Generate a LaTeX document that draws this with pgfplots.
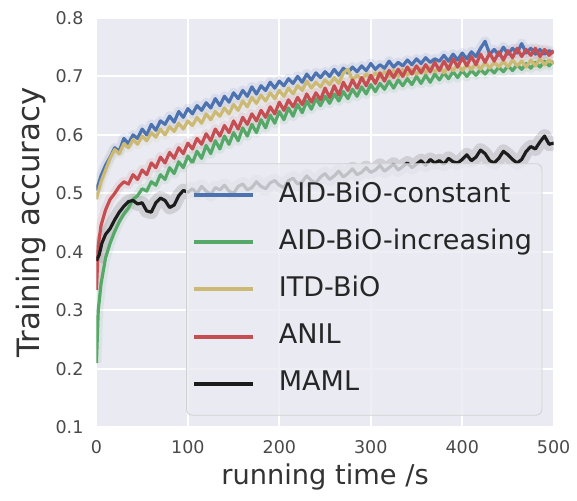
\documentclass[border=0pt]{standalone}
\usepackage{fontspec}
\setmainfont{DejaVu Sans}
\usepackage{pgfplots}
\usepackage{pgfplotstable}
\pgfplotsset{compat=1.18}

\definecolor{sbbg}{HTML}{EAEAF2}
\definecolor{sbblue}{HTML}{4C72B0}
\definecolor{sbgreen}{HTML}{55A868}
\definecolor{sbyellow}{HTML}{CCB974}
\definecolor{sbred}{HTML}{C44E52}
\definecolor{sbblack}{HTML}{1C1C1C}
\definecolor{ticktext}{HTML}{4A4A4A}
\definecolor{labeltext}{HTML}{333333}

% AID-BiO-constant
\pgfplotstableread{
t v
0 0.505
5 0.530
10 0.548
15 0.562
20 0.578
25 0.572
30 0.594
35 0.585
40 0.600
45 0.594
50 0.610
55 0.600
60 0.618
65 0.608
70 0.624
75 0.618
80 0.632
85 0.622
90 0.640
95 0.630
100 0.645
105 0.636
110 0.650
115 0.642
120 0.655
125 0.646
130 0.662
135 0.650
140 0.666
145 0.656
150 0.672
155 0.662
160 0.676
165 0.666
170 0.682
175 0.670
180 0.684
185 0.676
190 0.690
195 0.680
200 0.692
205 0.684
210 0.696
215 0.688
220 0.700
225 0.690
230 0.704
235 0.694
240 0.706
245 0.698
250 0.708
255 0.700
260 0.712
265 0.702
270 0.714
275 0.706
280 0.716
285 0.708
290 0.718
295 0.710
300 0.722
305 0.712
310 0.720
315 0.714
320 0.726
325 0.716
330 0.724
335 0.718
340 0.728
345 0.720
350 0.730
355 0.722
360 0.732
365 0.724
370 0.730
375 0.726
380 0.736
385 0.726
390 0.738
395 0.728
400 0.740
405 0.730
410 0.742
415 0.734
420 0.748
425 0.760
430 0.738
435 0.746
440 0.736
445 0.750
450 0.738
455 0.748
460 0.740
465 0.756
470 0.740
475 0.748
480 0.738
485 0.746
490 0.738
495 0.744
500 0.740
}\aidconst

% AID-BiO-increasing
\pgfplotstableread{
t v
0 0.210
2 0.300
5 0.345
10 0.390
15 0.415
20 0.435
25 0.452
30 0.465
35 0.475
40 0.490
45 0.496
50 0.508
55 0.504
60 0.520
65 0.514
70 0.532
75 0.524
80 0.544
85 0.534
90 0.554
95 0.544
100 0.564
105 0.552
110 0.572
115 0.560
120 0.582
125 0.568
130 0.590
135 0.576
140 0.598
145 0.584
150 0.604
155 0.590
160 0.612
165 0.598
170 0.618
175 0.604
180 0.626
185 0.612
190 0.634
195 0.620
200 0.640
205 0.626
210 0.646
215 0.632
220 0.652
225 0.638
230 0.658
235 0.644
240 0.662
245 0.650
250 0.666
255 0.654
260 0.670
265 0.658
270 0.674
275 0.662
280 0.678
285 0.666
290 0.682
295 0.670
300 0.686
305 0.674
310 0.688
315 0.678
320 0.692
325 0.680
330 0.694
335 0.684
340 0.696
345 0.686
350 0.700
355 0.688
360 0.702
365 0.690
370 0.704
375 0.694
380 0.706
385 0.696
390 0.708
395 0.698
400 0.710
405 0.700
410 0.710
415 0.702
420 0.712
425 0.704
430 0.714
435 0.706
440 0.716
445 0.708
450 0.718
455 0.710
460 0.720
465 0.712
470 0.722
475 0.714
480 0.724
485 0.716
490 0.726
495 0.718
500 0.726
}\aidinc

% ITD-BiO
\pgfplotstableread{
t v
0 0.490
5 0.520
10 0.540
15 0.560
20 0.575
25 0.568
30 0.585
35 0.578
40 0.592
45 0.584
50 0.598
55 0.590
60 0.604
65 0.596
70 0.610
75 0.600
80 0.614
85 0.606
90 0.620
95 0.610
100 0.624
105 0.616
110 0.630
115 0.620
120 0.636
125 0.626
130 0.640
135 0.632
140 0.646
145 0.636
150 0.652
155 0.642
160 0.658
165 0.648
170 0.664
175 0.654
180 0.668
185 0.658
190 0.672
195 0.662
200 0.676
205 0.666
210 0.680
215 0.670
220 0.684
225 0.676
230 0.692
235 0.680
240 0.690
245 0.682
250 0.694
255 0.686
260 0.698
265 0.688
270 0.706
275 0.712
280 0.694
285 0.702
290 0.694
295 0.704
300 0.696
305 0.706
310 0.698
315 0.708
320 0.700
325 0.710
330 0.700
335 0.712
340 0.702
345 0.712
350 0.704
355 0.714
360 0.706
365 0.716
370 0.708
375 0.716
380 0.706
385 0.718
390 0.710
395 0.720
400 0.710
405 0.720
410 0.712
415 0.722
420 0.712
425 0.724
430 0.714
435 0.724
440 0.716
445 0.726
450 0.716
455 0.728
460 0.718
465 0.726
470 0.716
475 0.728
480 0.718
485 0.730
490 0.720
495 0.728
500 0.722
}\itd

% ANIL
\pgfplotstableread{
t v
0 0.335
2 0.410
5 0.445
10 0.472
15 0.490
20 0.500
25 0.512
30 0.520
35 0.516
40 0.532
45 0.524
50 0.540
55 0.532
60 0.552
65 0.544
70 0.562
75 0.552
80 0.570
85 0.560
90 0.578
95 0.568
100 0.586
105 0.576
110 0.594
115 0.584
120 0.602
125 0.590
130 0.610
135 0.598
140 0.616
145 0.604
150 0.624
155 0.610
160 0.630
165 0.618
170 0.636
175 0.624
180 0.642
185 0.630
190 0.648
195 0.636
200 0.656
205 0.642
210 0.660
215 0.648
220 0.664
225 0.652
230 0.670
235 0.656
240 0.672
245 0.660
250 0.680
255 0.664
260 0.684
265 0.668
270 0.690
275 0.676
280 0.694
285 0.680
290 0.698
295 0.684
300 0.702
305 0.688
310 0.706
315 0.692
320 0.710
325 0.698
330 0.712
335 0.700
340 0.716
345 0.704
350 0.718
355 0.706
360 0.720
365 0.708
370 0.724
375 0.710
380 0.726
385 0.712
390 0.730
395 0.716
400 0.732
405 0.718
410 0.734
415 0.720
420 0.738
425 0.724
430 0.740
435 0.726
440 0.742
445 0.728
450 0.744
455 0.732
460 0.748
465 0.734
470 0.746
475 0.736
480 0.748
485 0.734
490 0.746
495 0.736
500 0.744
}\anil

% MAML
\pgfplotstableread{
t v
0 0.385
3 0.395
6 0.415
10 0.430
15 0.440
20 0.455
25 0.468
30 0.478
35 0.486
40 0.488
45 0.482
50 0.484
55 0.470
60 0.468
65 0.484
70 0.492
75 0.488
80 0.476
85 0.480
90 0.496
95 0.505
100 0.502
105 0.508
110 0.500
115 0.512
120 0.504
125 0.498
130 0.510
135 0.506
140 0.514
145 0.504
150 0.500
155 0.512
160 0.516
165 0.506
170 0.510
175 0.520
180 0.512
185 0.508
190 0.518
195 0.522
200 0.514
205 0.510
210 0.522
215 0.526
220 0.516
225 0.520
230 0.530
235 0.522
240 0.518
245 0.528
250 0.534
255 0.524
260 0.530
265 0.538
270 0.528
275 0.534
280 0.542
285 0.532
290 0.536
295 0.544
300 0.536
305 0.540
310 0.548
315 0.538
320 0.544
325 0.550
330 0.540
335 0.546
340 0.552
345 0.544
350 0.550
355 0.556
360 0.548
365 0.558
370 0.552
375 0.556
380 0.550
385 0.560
390 0.554
395 0.552
400 0.558
405 0.566
410 0.556
415 0.562
420 0.574
425 0.568
430 0.556
435 0.552
440 0.560
445 0.572
450 0.566
455 0.558
460 0.552
465 0.558
470 0.572
475 0.580
480 0.576
485 0.588
490 0.598
495 0.584
500 0.586
}\maml

\begin{document}
\begin{tikzpicture}
\begin{axis}[
    scale only axis,
    width=230pt, height=206pt,
    xmin=0, xmax=500, ymin=0.1, ymax=0.8,
    xtick={0,100,200,300,400,500},
    ytick={0.1,0.2,0.3,0.4,0.5,0.6,0.7,0.8},
    yticklabels={0.1,0.2,0.3,0.4,0.5,0.6,0.7,0.8},
    axis background/.style={fill=sbbg},
    axis line style={draw=none},
    major tick length=0pt,
    grid=major,
    major grid style={white, line width=1pt},
    tick label style={font=\fontsize{8.8}{10}\selectfont, text=ticktext},
    /pgf/number format/assume math mode=true,
    xticklabel style={yshift=-3pt},
    yticklabel style={xshift=-3pt},
    xlabel={running time /s},
    ylabel={Training accuracy},
    xlabel style={font=\fontsize{13.7}{15}\selectfont, text=labeltext, yshift=2pt},
    ylabel style={font=\fontsize{15.5}{17}\selectfont, text=labeltext, yshift=-2pt},
    every axis plot/.append style={line join=round},
    legend cell align=left,
    legend image code/.code={\draw[#1, line width=2pt] (0pt,0pt) -- (29.5pt,0pt);},
    legend style={
        at={(axis description cs:0.196,0.029)}, anchor=south west,
        fill=sbbg, fill opacity=0.8, draw opacity=1, text opacity=1,
        draw=black!18, rounded corners=3pt,
        font=\fontsize{13.6}{16}\selectfont, text=black!85,
        inner xsep=3pt, inner ysep=7pt,
        row sep=6pt,
        nodes={inner sep=2pt, text height=10.5pt, text depth=3.2pt},
        /tikz/every odd column/.append style={column sep=10pt},
    },
]
% shaded spread
\addplot[sbblue, line width=5pt, opacity=0.1, forget plot] table[x=t,y=v] {\aidconst};
\addplot[sbgreen, line width=5pt, opacity=0.1, forget plot] table[x=t,y=v] {\aidinc};
\addplot[sbyellow, line width=5pt, opacity=0.1, forget plot] table[x=t,y=v] {\itd};
\addplot[sbred, line width=5pt, opacity=0.1, forget plot] table[x=t,y=v] {\anil};
\addplot[gray, line width=7pt, opacity=0.25, forget plot] table[x=t,y=v] {\maml};
% mean curves
\addplot[sbblue, line width=1.6pt] table[x=t,y=v] {\aidconst};
\addplot[sbgreen, line width=1.6pt] table[x=t,y=v] {\aidinc};
\addplot[sbyellow, line width=1.6pt] table[x=t,y=v] {\itd};
\addplot[sbred, line width=1.6pt] table[x=t,y=v] {\anil};
\addplot[sbblack, line width=1.6pt] table[x=t,y=v] {\maml};
\legend{AID-BiO-constant, AID-BiO-increasing, ITD-BiO, ANIL, MAML}
\end{axis}
\path ([shift={(-48.5pt,-36.5pt)}]current axis.south west) rectangle ([shift={(10pt,9pt)}]current axis.north east);
\end{tikzpicture}
\end{document}
